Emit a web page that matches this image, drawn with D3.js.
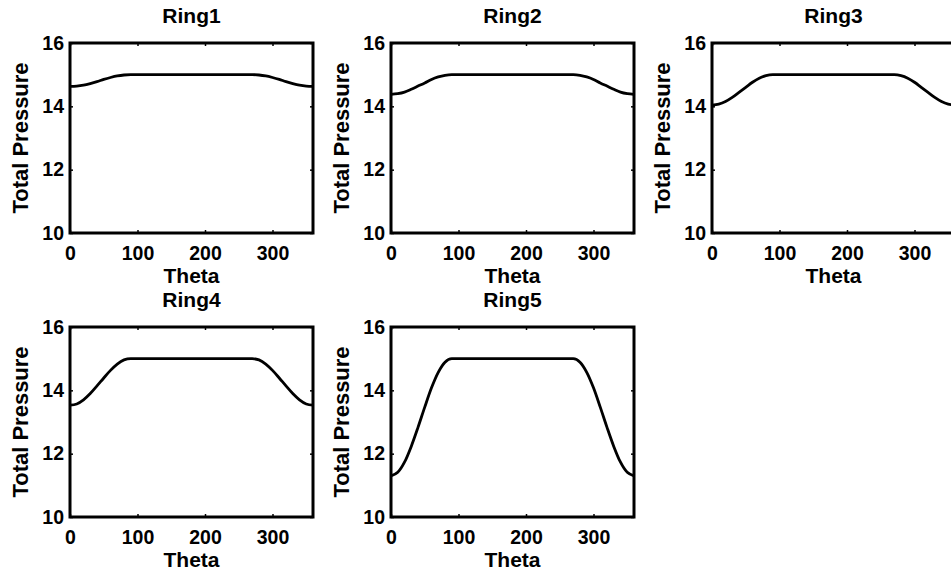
<!DOCTYPE html>
<html>
<head>
<meta charset="utf-8">
<script src="https://cdn.jsdelivr.net/npm/d3@7"></script>
<style>
  body { margin: 0; background: #fff; }
  text { font-family: "Liberation Sans", Arial, sans-serif; font-weight: bold; fill: #000; }
</style>
</head>
<body>
<div id="chart"></div>
<script>
// data, theta every 10 degrees
const theta = [0, 10, 20, 30, 40, 50, 60, 70, 80, 90, 100, 110, 120, 130, 140, 150, 160, 170, 180,
  190, 200, 210, 220, 230, 240, 250, 260, 270, 280, 290, 300, 310, 320, 330, 340, 350, 360];

const ring1 = [14.63, 14.64, 14.67, 14.72, 14.78, 14.85, 14.91, 14.96, 14.99,
  15, 15, 15, 15, 15, 15, 15, 15, 15, 15, 15, 15, 15, 15, 15, 15, 15, 15, 15,
  14.99, 14.96, 14.91, 14.85, 14.78, 14.72, 14.67, 14.64, 14.63];
const ring2 = [14.38, 14.40, 14.45, 14.54, 14.64, 14.74, 14.85, 14.93, 14.98,
  15, 15, 15, 15, 15, 15, 15, 15, 15, 15, 15, 15, 15, 15, 15, 15, 15, 15, 15,
  14.98, 14.93, 14.85, 14.74, 14.64, 14.54, 14.45, 14.40, 14.38];
const ring3 = [14.04, 14.07, 14.15, 14.28, 14.44, 14.60, 14.76, 14.89, 14.97,
  15, 15, 15, 15, 15, 15, 15, 15, 15, 15, 15, 15, 15, 15, 15, 15, 15, 15, 15,
  14.97, 14.89, 14.76, 14.60, 14.44, 14.28, 14.15, 14.07, 14.04];
const ring4 = [13.53, 13.57, 13.70, 13.90, 14.14, 14.39, 14.63, 14.83, 14.96,
  15, 15, 15, 15, 15, 15, 15, 15, 15, 15, 15, 15, 15, 15, 15, 15, 15, 15, 15,
  14.96, 14.83, 14.63, 14.39, 14.14, 13.90, 13.70, 13.57, 13.53];
const ring5 = [11.30, 11.41, 11.73, 12.23, 12.83, 13.47, 14.08, 14.57, 14.89,
  15, 15, 15, 15, 15, 15, 15, 15, 15, 15, 15, 15, 15, 15, 15, 15, 15, 15, 15,
  14.89, 14.57, 14.08, 13.47, 12.83, 12.23, 11.73, 11.41, 11.30];

const titles = ['Ring1', 'Ring2', 'Ring3', 'Ring4', 'Ring5'];
const series = [ring1, ring2, ring3, ring4, ring5];
const xTicks = [0, 100, 200, 300];
const yTicks = [10, 12, 14, 16];

const width = 951, height = 575;
const pw = 243, ph = 190;
const colLeft = [70, 391, 712];
const rowTop = [43, 327];

const svg = d3.select('#chart').append('svg')
  .attr('width', width)
  .attr('height', height);

const x = d3.scaleLinear().domain([0, 360]).range([0, pw]);
const y = d3.scaleLinear().domain([10, 16]).range([ph, 0]);
const fmt = d3.format('d');

const line = d3.line()
  .x((d, i) => x(theta[i]))
  .y(d => y(d))
  .curve(d3.curveMonotoneX);

series.forEach((vals, k) => {
  const g = svg.append('g')
    .attr('transform', `translate(${colLeft[k % 3]},${rowTop[Math.floor(k / 3)]})`);

  // ticks on all four sides, pointing inward
  g.append('g').attr('transform', `translate(0,${ph})`)
    .call(d3.axisBottom(x).tickValues(xTicks).tickFormat(fmt).tickSize(-3).tickPadding(13.5));
  g.append('g')
    .call(d3.axisTop(x).tickValues(xTicks).tickSize(-3).tickFormat(''));
  g.append('g')
    .call(d3.axisLeft(y).tickValues(yTicks).tickFormat(fmt).tickSize(-3).tickPadding(6));
  g.append('g').attr('transform', `translate(${pw},0)`)
    .call(d3.axisRight(y).tickValues(yTicks).tickSize(-3).tickFormat(''));

  g.selectAll('.domain').remove();
  g.selectAll('.tick line').attr('stroke', '#000').attr('stroke-width', 1.5);
  g.selectAll('.tick text').style('font-size', '19.5px').style('font-family', '"Liberation Sans", Arial, sans-serif');

  g.append('path')
    .datum(vals)
    .attr('d', line)
    .attr('fill', 'none')
    .attr('stroke', '#000')
    .attr('stroke-width', 2.8);

  g.append('rect')
    .attr('width', pw)
    .attr('height', ph)
    .attr('fill', 'none')
    .attr('stroke', '#000')
    .attr('stroke-width', 3);

  g.append('text')
    .attr('x', pw / 2)
    .attr('y', -20)
    .attr('text-anchor', 'middle')
    .style('font-size', '21px')
    .text(titles[k]);

  g.append('text')
    .attr('x', pw / 2)
    .attr('y', ph + 50)
    .attr('text-anchor', 'middle')
    .style('font-size', '21px')
    .text('Theta');

  g.append('text')
    .attr('transform', `translate(-42,${ph / 2}) rotate(-90)`)
    .attr('text-anchor', 'middle')
    .style('font-size', '22px')
    .text('Total Pressure');
});
</script>
</body>
</html>
